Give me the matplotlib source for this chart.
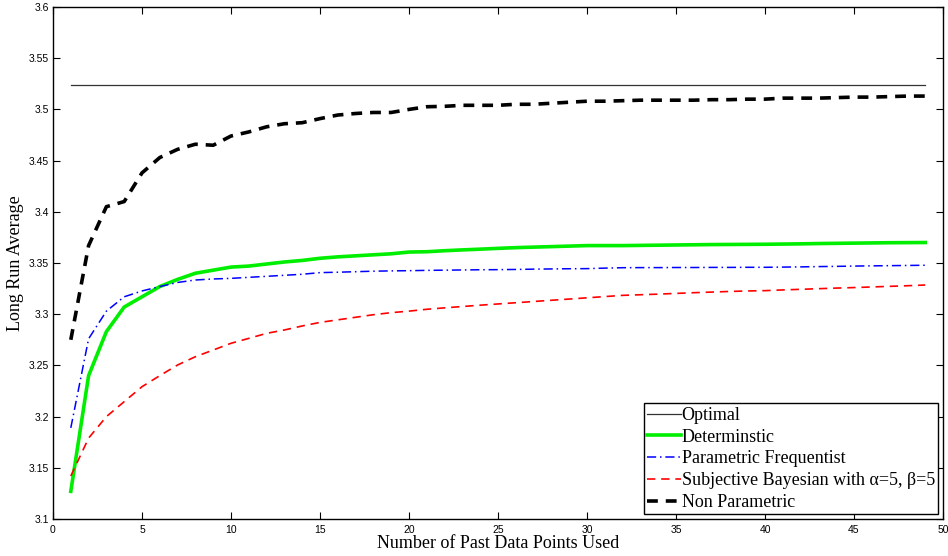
import matplotlib
matplotlib.use("Agg")
import matplotlib.pyplot as plt
import numpy as np

# past data points used
n_points = list(range(1, 50))

optimal = 3.5238

deterministic = [3.127, 3.240, 3.283, 3.307, 3.317, 3.327, 3.334, 3.340, 3.343, 3.346,
                 3.347, 3.349, 3.351, 3.3525, 3.3546, 3.356, 3.357, 3.358, 3.359, 3.3607,
                 3.361, 3.362, 3.3628, 3.3635, 3.3643, 3.365, 3.3655, 3.366, 3.3665, 3.367,
                 3.367, 3.367, 3.3672, 3.3674, 3.3676, 3.3678, 3.368, 3.3681, 3.3682, 3.3683,
                 3.3685, 3.3687, 3.369, 3.3692, 3.3694, 3.3696, 3.3698, 3.3699, 3.370]

param_freq = [3.189, 3.276, 3.303, 3.317, 3.3227, 3.327, 3.331, 3.3334, 3.3344, 3.335,
              3.336, 3.337, 3.338, 3.339, 3.3406, 3.341, 3.3415, 3.342, 3.3423, 3.3425,
              3.3428, 3.343, 3.3432, 3.3434, 3.3435, 3.3437, 3.344, 3.3442, 3.3444, 3.3445,
              3.345, 3.3454, 3.3455, 3.3455, 3.3456, 3.3456, 3.3457, 3.3457, 3.3458, 3.3458,
              3.346, 3.3462, 3.3465, 3.3467, 3.347, 3.3472, 3.3474, 3.3476, 3.3478]

subj_bayes = [3.142, 3.179, 3.200, 3.2146, 3.2292, 3.240, 3.2504, 3.2585, 3.265, 3.2716,
              3.2764, 3.2813, 3.2846, 3.2885, 3.292, 3.2945, 3.297, 3.2995, 3.3015, 3.303,
              3.3048, 3.3062, 3.3075, 3.3088, 3.310, 3.3112, 3.3124, 3.3136, 3.3148, 3.316,
              3.3172, 3.3184, 3.319, 3.3196, 3.3203, 3.321, 3.3216, 3.3222, 3.3227, 3.323,
              3.3237, 3.3243, 3.3249, 3.3255, 3.326, 3.3266, 3.3272, 3.3278, 3.3285]

non_param = [3.275, 3.367, 3.405, 3.410, 3.438, 3.453, 3.461, 3.466, 3.465, 3.474,
             3.478, 3.483, 3.486, 3.487, 3.491, 3.4945, 3.496, 3.497, 3.497, 3.500,
             3.5026, 3.503, 3.504, 3.504, 3.504, 3.505, 3.505, 3.506, 3.507, 3.508,
             3.508, 3.5085, 3.509, 3.509, 3.509, 3.509, 3.5095, 3.5095, 3.510, 3.510,
             3.511, 3.511, 3.511, 3.5115, 3.512, 3.512, 3.5125, 3.513, 3.513]

xticks = [0, 5, 10, 15, 20, 25, 30, 35, 40, 45, 50]
yticks = [3.1, 3.15, 3.2, 3.25, 3.3, 3.35, 3.4, 3.45, 3.5, 3.55, 3.6]

fig = plt.figure(figsize=(9.48, 5.56), dpi=100)
ax = fig.add_axes([53/948, 1 - 519/556, 890/948, 512/556])

ax.plot(n_points, [optimal] * len(n_points), color="#333333", lw=0.9, label="Optimal")
ax.plot(n_points, deterministic, color="#00ee00", lw=2.6, label="Determinstic")
ax.plot(n_points, param_freq, color="blue", lw=1.1, ls=(0, (6, 2.5, 1, 2.5)),
        label="Parametric Frequentist")
ax.plot(n_points, subj_bayes, color="red", lw=1.2, ls=(0, (5, 3.5)),
        label="Subjective Bayesian with \u03b1=5, \u03b2=5")
ax.plot(n_points, non_param, color="black", lw=2.6, ls=(0, (3, 2.2)),
        label="Non Parametric")

ax.set_xlim(0, 50)
ax.set_ylim(3.1, 3.6)
ax.set_xticks(xticks)
ax.set_yticks(yticks)
ax.set_xticklabels([str(t) for t in xticks], fontsize=7.5, family="Liberation Sans")
ax.set_yticklabels([f"{t:g}" for t in yticks], fontsize=7.5, family="Liberation Sans")
ax.tick_params(direction="in", top=True, right=True, length=5, width=0.8, pad=4)
ax.tick_params(axis="y", pad=3)
for s in ax.spines.values():
    s.set_linewidth(1.0)

ax.set_xlabel("Number of Past Data Points Used", family="Liberation Serif", fontsize=13, labelpad=0)
ax.set_ylabel("Long Run Average", family="Liberation Serif", fontsize=13, labelpad=3)

leg = ax.legend(loc="lower right", prop={"family": "Liberation Serif", "size": 13},
                frameon=True, fancybox=False, framealpha=1, edgecolor="black",
                borderpad=0.2, labelspacing=0.26, handlelength=1.85, handletextpad=0.05,
                borderaxespad=0.25)
leg.get_frame().set_linewidth(1.0)

fig.savefig("out.png", dpi=100)
